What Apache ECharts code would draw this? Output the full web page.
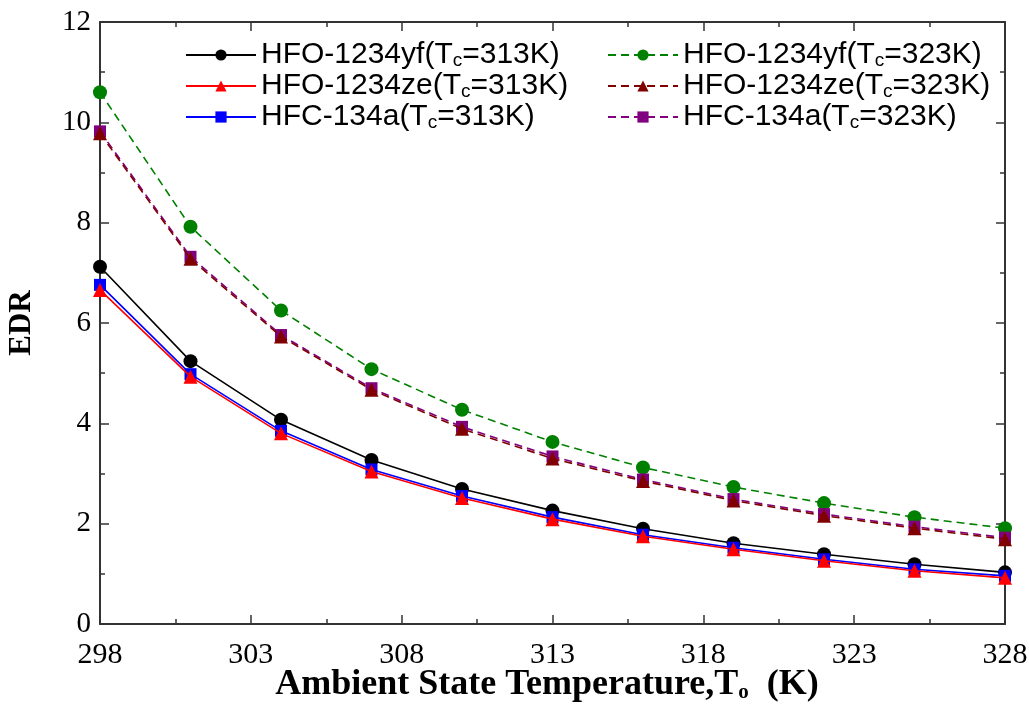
<!DOCTYPE html>
<html>
<head>
<meta charset="utf-8">
<script src="https://cdn.jsdelivr.net/npm/echarts@6/dist/echarts.min.js"></script>
<style>html,body{margin:0;padding:0;background:#fff}#c{width:1029px;height:706px}</style>
</head>
<body>
<div id="c"></div>
<script>
// Ambient state temperature T0 (K)
const temps = [298, 301, 304, 307, 310, 313, 316, 319, 322, 325, 328];
// EDR values
const yf313 = [7.12, 5.24, 4.07, 3.27, 2.69, 2.26, 1.90, 1.61, 1.39, 1.19, 1.03];
const ze313 = [6.66, 4.93, 3.80, 3.04, 2.51, 2.09, 1.75, 1.49, 1.26, 1.06, 0.92];
const a313  = [6.76, 4.98, 3.85, 3.08, 2.55, 2.13, 1.78, 1.52, 1.29, 1.09, 0.96];
const yf323 = [10.60, 7.92, 6.25, 5.08, 4.27, 3.63, 3.12, 2.73, 2.41, 2.13, 1.91];
const ze323 = [9.78, 7.28, 5.73, 4.67, 3.89, 3.30, 2.85, 2.46, 2.16, 1.91, 1.69];
const a323  = [9.82, 7.32, 5.76, 4.70, 3.93, 3.34, 2.88, 2.49, 2.19, 1.94, 1.72];
const names = ['HFO-1234yf(Tc=313K)', 'HFO-1234ze(Tc=313K)', 'HFC-134a(Tc=313K)',
               'HFO-1234yf(Tc=323K)', 'HFO-1234ze(Tc=323K)', 'HFC-134a(Tc=323K)'];
const xTitle = 'Ambient State Temperature,T{s|o}  (K)';
const xMin = temps[0], xMax = temps[temps.length - 1];

function pts(vals) { return temps.map((t, i) => [t - xMin, vals[i]]); }

function mk(name, vals, color, symbol, size, dashed, z) {
  return {
    type: 'line', name: name, data: pts(vals), z: z,
    symbol: symbol, symbolSize: size, showSymbol: true,
    itemStyle: { color: color },
    lineStyle: { color: color, width: 1.6, type: dashed ? [8, 5] : 'solid' },
    emphasis: { disabled: true }, animation: false
  };
}

const sans = 'Liberation Sans, Arial, sans-serif';
const serif = 'Liberation Serif, Times New Roman, serif';
const legendText = {
  fontFamily: sans, fontSize: 30, color: '#000',
  rich: {
    n: { fontFamily: sans, fontSize: 30, color: '#000', lineHeight: 30 },
    s: { fontFamily: sans, fontSize: 19, color: '#000', verticalAlign: 'bottom', lineHeight: 30, padding: [10, 0, 0, 0] }
  }
};
function fmt(n) {
  const p = n.split('Tc');
  return '{n|' + p[0] + 'T}{s|c}{n|' + p[1] + '}';
}
function legend(left, data) {
  return {
    left: left, top: 35, orient: 'vertical', itemGap: 1,
    itemWidth: 70, itemHeight: 14, data: data, formatter: fmt,
    textStyle: legendText, selectedMode: false
  };
}

const axLine = { show: true, onZero: false, lineStyle: { color: '#333', width: 2 } };
const tick = { inside: true, length: 9, lineStyle: { color: '#333', width: 1.5 } };
const minor = { show: true, splitNumber: 2, length: 5, lineStyle: { color: '#333', width: 1.5 } };
const chart = echarts.init(document.getElementById('c'));
chart.setOption({
  animation: false,
  grid: { left: 100, right: 24, top: 22, bottom: 82, containLabel: false, outerBoundsMode: 'none' },
  legend: [legend(180, names.slice(0, 3)), legend(602, names.slice(3))],
  graphic: [{
    type: 'text', x: 547, y: 685, silent: true,
    style: {
      text: xTitle, align: 'center', verticalAlign: 'middle',
      fontFamily: serif, fontSize: 36, fontWeight: 'bold', fill: '#000',
      rich: { s: { fontFamily: serif, fontSize: 21, fontWeight: 'bold', fill: '#000', verticalAlign: 'bottom', padding: [16, 0, 0, 0] } }
    }
  }],
  xAxis: [{
    type: 'value', min: 0, max: xMax - xMin, interval: 5,
    axisLine: axLine, axisTick: tick, minorTick: minor,
    splitLine: { show: false },
    axisLabel: { formatter: v => String(v + xMin), fontFamily: serif, fontSize: 30, color: '#000', margin: 16 }
  }, {
    type: 'value', min: 0, max: xMax - xMin, interval: 5, position: 'top',
    axisLine: axLine, axisTick: tick, minorTick: minor,
    splitLine: { show: false }, axisLabel: { show: false }
  }],
  yAxis: [{
    type: 'value', min: 0, max: 12, interval: 2,
    axisLine: axLine, axisTick: tick, minorTick: minor,
    splitLine: { show: false },
    axisLabel: { fontFamily: serif, fontSize: 29, color: '#000', margin: 9 },
    name: 'EDR', nameLocation: 'middle', nameGap: 63, nameRotate: 90,
    nameTextStyle: { fontFamily: serif, fontSize: 31, fontWeight: 'bold', color: '#000' }
  }, {
    type: 'value', min: 0, max: 12, interval: 2, position: 'right',
    axisLine: axLine, axisTick: tick, minorTick: minor,
    splitLine: { show: false }, axisLabel: { show: false }
  }],
  series: [
    mk(names[0], yf313, '#000000', 'circle', 14, false, 2),
    mk(names[2], a313, '#0000ff', 'rect', 12, false, 3),
    mk(names[1], ze313, '#ff0000', 'triangle', 14, false, 4),
    mk(names[3], yf323, '#008000', 'circle', 14, true, 2),
    mk(names[5], a323, '#800080', 'rect', 12, true, 3),
    mk(names[4], ze323, '#800000', 'triangle', 14, true, 4)
  ]
});
</script>
</body>
</html>
